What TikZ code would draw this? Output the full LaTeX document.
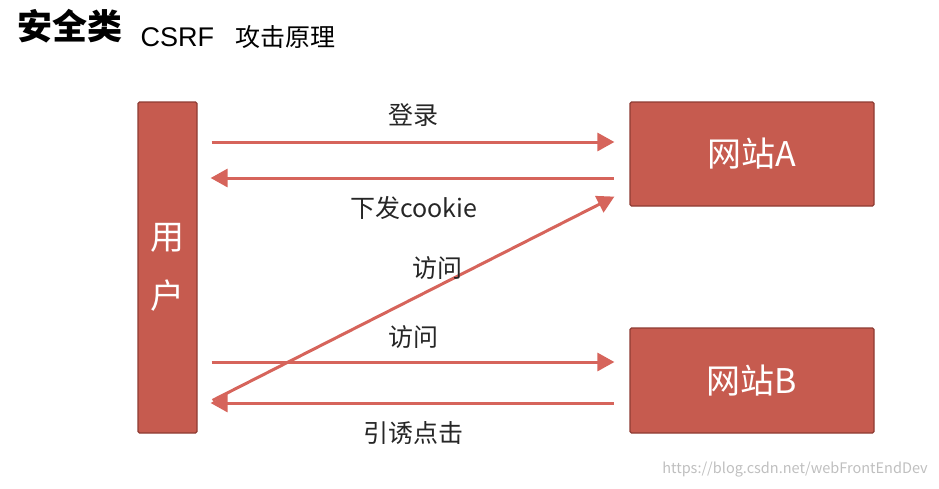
\documentclass[tikz,border=0pt]{standalone}
\usepackage{fontspec}
\newfontfamily\cjk{Noto Sans CJK SC}
\newfontfamily\latin{Liberation Sans}
\usetikzlibrary{arrows.meta}
\definecolor{boxfill}{HTML}{C65B4F}
\definecolor{boxline}{HTML}{8E3B33}
\definecolor{arrowred}{HTML}{D6645B}

\begin{document}
\begin{tikzpicture}[x=1pt, y=-1pt,
		box/.style={draw=boxline, fill=boxfill, line width=1.2pt, rounded corners=1.5pt, text=white, inner sep=0pt, font=\cjk\fontsize{34}{59}\selectfont},
		link/.style={draw=arrowred, line width=3pt, shorten <=14pt, shorten >=15pt, -{Triangle[length=17pt,width=18pt]}},
		back/.style={draw=arrowred, line width=3pt, shorten <=13pt, shorten >=15pt, {Triangle[length=17pt,width=18pt]}-},
		lbl/.style={font=\cjk\fontsize{25}{25}\selectfont, text=black!85},
		]
		\useasboundingbox (0,0) rectangle (939,488);
		\node[font=\cjk\bfseries\fontsize{35}{35}\selectfont, anchor=west] (title) at (14,26) {安全类};
		\node[font=\cjk\fontsize{25}{25}\selectfont, anchor=west] (subtitle) at (137,37) {{\latin\fontsize{27}{27}\selectfont CSRF}\hspace{0.85em}攻击原理};
		\node[box, minimum width=59pt, minimum height=331pt, align=center] (user) at (167.5,267.5) {用\\户};
		\node[box, minimum width=244pt, minimum height=104pt] (siteA) at (752,154) {网站A};
		\node[box, minimum width=244pt, minimum height=105pt] (siteB) at (752,380.5) {网站B};
		\draw[link] (user.east |- 0,142) -- (siteA.west |- 0,142) node[midway, lbl, yshift=27pt] {登录};
		\draw[back] (user.east |- 0,178) -- (siteA.west |- 0,178) node[midway, lbl, yshift=-30pt] {下发cookie};
		\draw[link, shorten <=16.8pt, shorten >=16.8pt] (user.east |- 0,408) -- (siteA.west |- 0,189);
		\node[lbl] (visitA) at (437,268) {访问};
		\draw[link] (user.east |- 0,362) -- (siteB.west |- 0,362) node[midway, lbl, yshift=25pt] {访问};
		\draw[back] (user.east |- 0,403) -- (siteB.west |- 0,403) node[midway, lbl, yshift=-30pt] {引诱点击};
		\node[font=\cjk\fontsize{14.5}{14.5}\selectfont, text=black!25] (mark) at (795,470) {https://blog.csdn.net/webFrontEndDev};
	\end{tikzpicture}
\end{document}
